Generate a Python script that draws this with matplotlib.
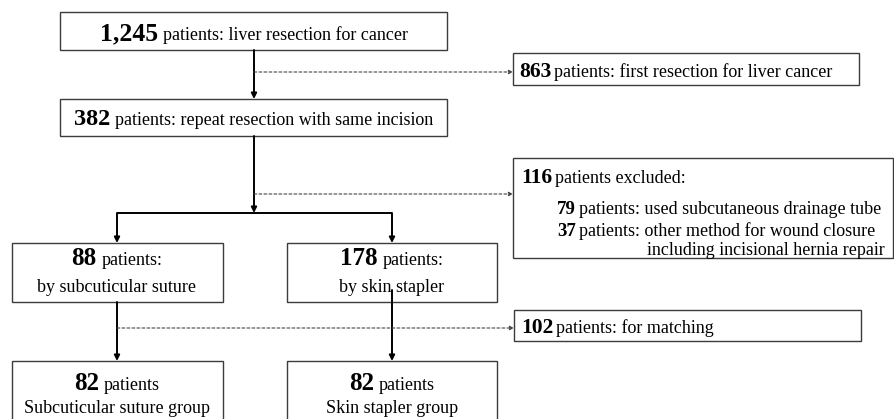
import matplotlib
matplotlib.use('Agg')
import matplotlib.pyplot as plt
from matplotlib.patches import Rectangle

# counts and labels of the flowchart
total_n = '1,245'
total_txt = 'patients: liver resection for cancer'
first_n = '863'
first_txt = 'patients: first resection for liver cancer'
repeat_n = '382'
repeat_txt = 'patients: repeat resection with same incision'
excl_n = ['116', '79', '37']
excl_txt = ['patients excluded:',
            'patients: used subcutaneous drainage tube',
            'patients: other method for wound closure',
            'including incisional hernia repair']
group_n = ['88', '178']
group_txt = ['by subcuticular suture', 'by skin stapler']
match_n = '102'
match_txt = 'patients: for matching'
final_n = ['82', '82']
final_txt = ['Subcuticular suture group', 'Skin stapler group']

FONT = 'Liberation Serif'
W, H = 895, 419

fig = plt.figure(figsize=(W / 100, H / 100), dpi=100)
ax = fig.add_axes([0, 0, 1, 1])
ax.set_xlim(0, W)
ax.set_ylim(H, 0)
ax.axis('off')
renderer = fig.canvas.get_renderer()


def box(x0, y0, x1, y1):
    ax.add_patch(Rectangle((x0, y0), x1 - x0, y1 - y0, fill=False,
                           edgecolor='#3c3c3c', lw=1.0))


def rich(x, y, parts, ha='center', gap=4):
    texts = []
    for s, size, bold in parts:
        t = ax.text(0, y, s, fontsize=size, family=FONT, va='baseline', ha='left',
                    fontweight='bold' if bold else 'normal')
        texts.append(t)
    widths = [t.get_window_extent(renderer).width for t in texts]
    total = sum(widths) + gap * (len(texts) - 1)
    start = x - total / 2 if ha == 'center' else x
    for t, w in zip(texts, widths):
        t.set_position((start, y))
        start += w + gap


def arrow(x0, y0, x1, y1, dashed=False):
    if dashed:
        props = dict(arrowstyle='-|>', mutation_scale=6, lw=0.8, color='#444444',
                     linestyle=(0, (2.5, 2)), shrinkA=0, shrinkB=0)
    else:
        props = dict(arrowstyle='-|>', mutation_scale=8, lw=1.4, color='black',
                     shrinkA=0, shrinkB=0)
    ax.annotate('', xy=(x1, y1), xytext=(x0, y0), arrowprops=props)


def line(xs, ys):
    ax.plot(xs, ys, color='black', lw=1.4, solid_capstyle='butt')


NR = 13.0

# top boxes
box(60, 12, 447, 50)
rich(254, 40, [(total_n, 18.5, True), (total_txt, NR, False)], gap=5)
box(60, 99, 447, 136)
rich(254, 125, [(repeat_n, 17.5, True), (repeat_txt, NR, False)], gap=5)

# exclusion boxes
box(513, 53, 859, 85)
rich(519, 77, [(first_n, 15.5, True), (first_txt, NR, False)], ha='left', gap=3)
box(513, 158, 893, 258)
rich(521, 183, [(excl_n[0], 15.5, True), (excl_txt[0], NR, False)], ha='left', gap=3)
rich(557, 214, [(excl_n[1], 13.5, True), (excl_txt[1], NR, False)], ha='left', gap=3)
rich(557, 236, [(excl_n[2], 13.5, True), (excl_txt[2], NR, False)], ha='left', gap=3)
rich(647, 255, [(excl_txt[3], NR, False)], ha='left')
box(514, 310, 861, 341)
rich(521, 333, [(match_n, 15.5, True), (match_txt, NR, False)], ha='left', gap=3)

# group boxes
centers = [117, 392]
spans = [(12, 223), (287, 497)]
for i, cx in enumerate(centers):
    box(spans[i][0], 243, spans[i][1], 302)
    rich(cx, 265, [(group_n[i], 18, True), ('patients:', NR, False)], gap=5)
    rich(cx, 292, [(group_txt[i], NR, False)])
    box(spans[i][0], 361, spans[i][1], 430)
    rich(cx, 390, [(final_n[i], 18, True), ('patients', NR, False)], gap=5)
    rich(cx, 413, [(final_txt[i], NR, False)])

# connectors
arrow(254, 50, 254, 99)
arrow(254, 72, 513, 72, dashed=True)
arrow(254, 136, 254, 213)
line([117, 392], [213, 213])
arrow(117, 213, 117, 243)
arrow(392, 213, 392, 243)
arrow(254, 194, 513, 194, dashed=True)
arrow(117, 302, 117, 361)
arrow(392, 290, 392, 361)
arrow(117, 328, 514, 328, dashed=True)

fig.savefig('out.png', dpi=100)
